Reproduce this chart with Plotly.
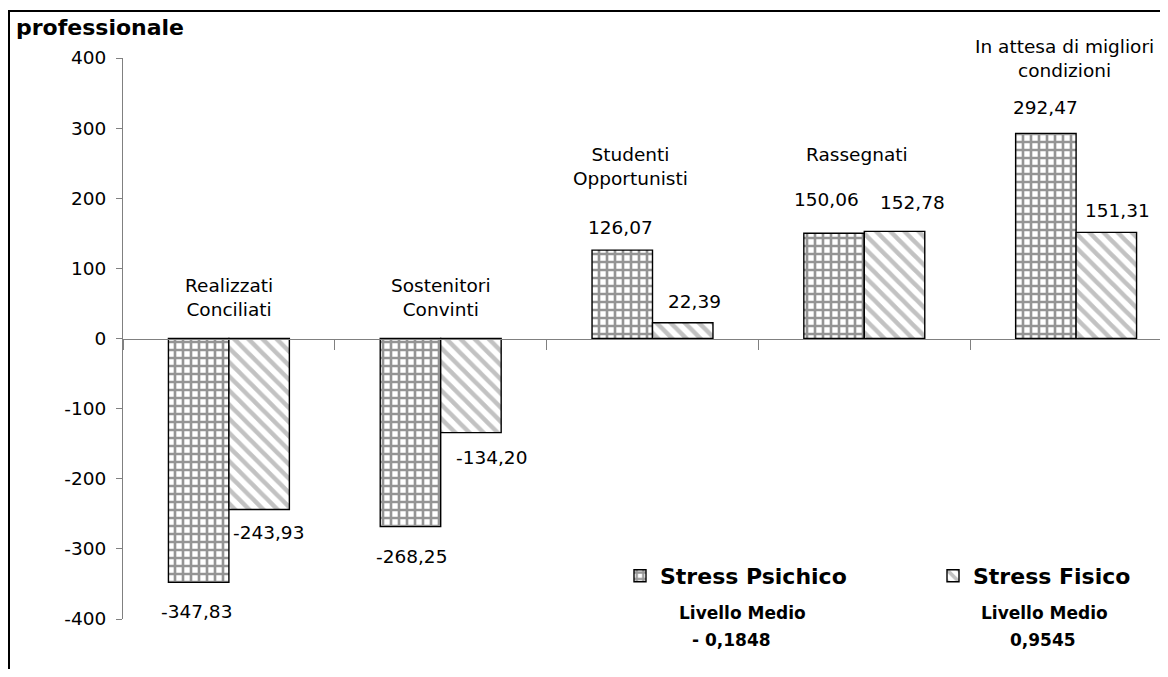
import plotly.graph_objects as go

# ---------------- data ----------------
categories = ["Realizzati<br>Conciliati", "Sostenitori<br>Convinti",
              "Studenti<br>Opportunisti", "Rassegnati",
              "In attesa di migliori<br>condizioni"]
psichico = [-347.83, -268.25, 126.07, 150.06, 292.47]
fisico = [-243.93, -134.20, 22.39, 152.78, 151.31]
series_names = ["Stress Psichico", "Stress Fisico"]
livello_label = "Livello Medio"
livello_values = ["- 0,1848", "0,9545"]
y_tick_vals = [-400, -300, -200, -100, 0, 100, 200, 300, 400]
y_tick_text = ["-400", "-300", "-200", "-100", "0", "100", "200", "300", "400"]
title_text = "professionale"

# ---------------- layout constants ----------------
FONT = "DejaVu Sans"
FS = 18.5
W, H = 1152, 661
ML, MR, MT, MB = 115, 0, 50, 50
CAT_PX = 211.8
BARGAP = 0.429
plot_w = W - ML - MR
x_end = -0.5 + plot_w / CAT_PX
bar_w = (1 - BARGAP) / 2

def fmt(v):
    return f"{v:.2f}".replace(".", ",")

idx = list(range(len(categories)))

fig = go.Figure()
fig.add_trace(go.Bar(
    x=idx, y=psichico, name=series_names[0], legend="legend",
    marker=dict(color="white", line=dict(color="black", width=1.4),
                pattern=dict(shape="+", fgcolor="#2a2a2a", bgcolor="white",
                             size=8, solidity=0.55, fillmode="overlay")),
    hoverinfo="skip"))
fig.add_trace(go.Bar(
    x=idx, y=fisico, name=series_names[1], legend="legend2",
    marker=dict(color="white", line=dict(color="black", width=1.4),
                pattern=dict(shape="\\", fgcolor="#858585", bgcolor="white",
                             size=10, solidity=0.45, fillmode="overlay")),
    hoverinfo="skip"))

annotations = []
# value labels (pixel offsets from bar end)
psi_shift = [(-2, -29), (1, -30), (-2, 23), (-8, 34), (0, 26)]
fis_shift = [(9, -23), (21, -25), (12, 21), (18, 29), (11, 22)]
for i, v in enumerate(psichico):
    dx, dy = psi_shift[i]
    annotations.append(dict(x=i - bar_w / 2, y=v, xref="x", yref="y", text=fmt(v),
                            showarrow=False, xshift=dx, yshift=dy,
                            xanchor="center", yanchor="middle",
                            font=dict(family=FONT, size=FS, color="black")))
for i, v in enumerate(fisico):
    dx, dy = fis_shift[i]
    annotations.append(dict(x=i + bar_w / 2, y=v, xref="x", yref="y", text=fmt(v),
                            showarrow=False, xshift=dx, yshift=dy,
                            xanchor="center", yanchor="middle",
                            font=dict(family=FONT, size=FS, color="black")))

# category labels
cat_pos = [(0, 57.8), (0, 57.8), (-22, 245), (-7, 262.5), (-12, 399)]
for i, c in enumerate(categories):
    dx, yv = cat_pos[i]
    annotations.append(dict(x=i, y=yv, xref="x", yref="y", text=c,
                            showarrow=False, xshift=dx, xanchor="center",
                            yanchor="middle", align="center",
                            font=dict(family=FONT, size=FS, color="black")))

# page-pixel helpers (figure sits 8px inside the page)
def px_x(page_x):
    return (page_x - (ML + 8)) / plot_w

def px_y(page_y):
    return ((MT + 8) + (H - MT - MB) - page_y) / (H - MT - MB)

for cx, val, vx in [(742, livello_values[0], 731), (1044, livello_values[1], 1043)]:
    annotations.append(dict(x=px_x(cx), y=px_y(613), xref="paper", yref="paper",
                            text=livello_label, showarrow=False,
                            xanchor="center", yanchor="middle",
                            font=dict(family=FONT, size=17, color="black", weight="bold")))
    annotations.append(dict(x=px_x(vx), y=px_y(640), xref="paper", yref="paper",
                            text=val, showarrow=False,
                            xanchor="center", yanchor="middle",
                            font=dict(family=FONT, size=17, color="black", weight="bold")))

# title (kept visible inside the frame, top-left)
annotations.append(dict(x=px_x(14), y=px_y(13), xref="paper", yref="paper",
                        text=title_text, showarrow=False, xanchor="left",
                        yanchor="top",
                        font=dict(family=FONT, size=22, color="black", weight="bold")))

legend_font = dict(family=FONT, size=22, color="black", weight="bold")

fig.update_layout(
    width=W, height=H,
    margin=dict(l=ML, r=MR, t=MT, b=MB, pad=0),
    paper_bgcolor="white", plot_bgcolor="white",
    barmode="group", bargap=BARGAP, bargroupgap=0,
    font=dict(family=FONT, size=FS, color="black"),
    xaxis=dict(range=[-0.5, x_end], anchor="free", position=0.5,
               showline=True, linecolor="#808080", linewidth=1,
               ticks="outside", ticklen=10, tickcolor="#808080", tickwidth=1,
               tickvals=[i - 0.5 for i in range(len(categories) + 1)],
               showticklabels=False, showgrid=False, zeroline=False),
    yaxis=dict(range=[-400, 400], tickvals=y_tick_vals, ticktext=y_tick_text,
               showline=True, linecolor="#808080", linewidth=1,
               ticks="outside", ticklen=6, tickcolor="#808080", tickwidth=1,
               ticklabelstandoff=6,
               tickfont=dict(family=FONT, size=FS, color="black"),
               showgrid=False, zeroline=False),
    showlegend=True,
    legend=dict(x=px_x(620), y=px_y(576), xanchor="left", yanchor="middle",
                orientation="h", font=legend_font, bgcolor="rgba(0,0,0,0)",
                borderwidth=0),
    legend2=dict(x=px_x(933), y=px_y(576), xanchor="left", yanchor="middle",
                 orientation="h", font=legend_font, bgcolor="rgba(0,0,0,0)",
                 borderwidth=0),
    annotations=annotations,
    shapes=[dict(type="rect", xref="paper", yref="paper",
                 x0=px_x(9), y0=-0.3, x1=1.2, y1=px_y(11),
                 line=dict(color="black", width=2), fillcolor="rgba(0,0,0,0)",
                 layer="above")],
)

fig.write_html("out.html")
